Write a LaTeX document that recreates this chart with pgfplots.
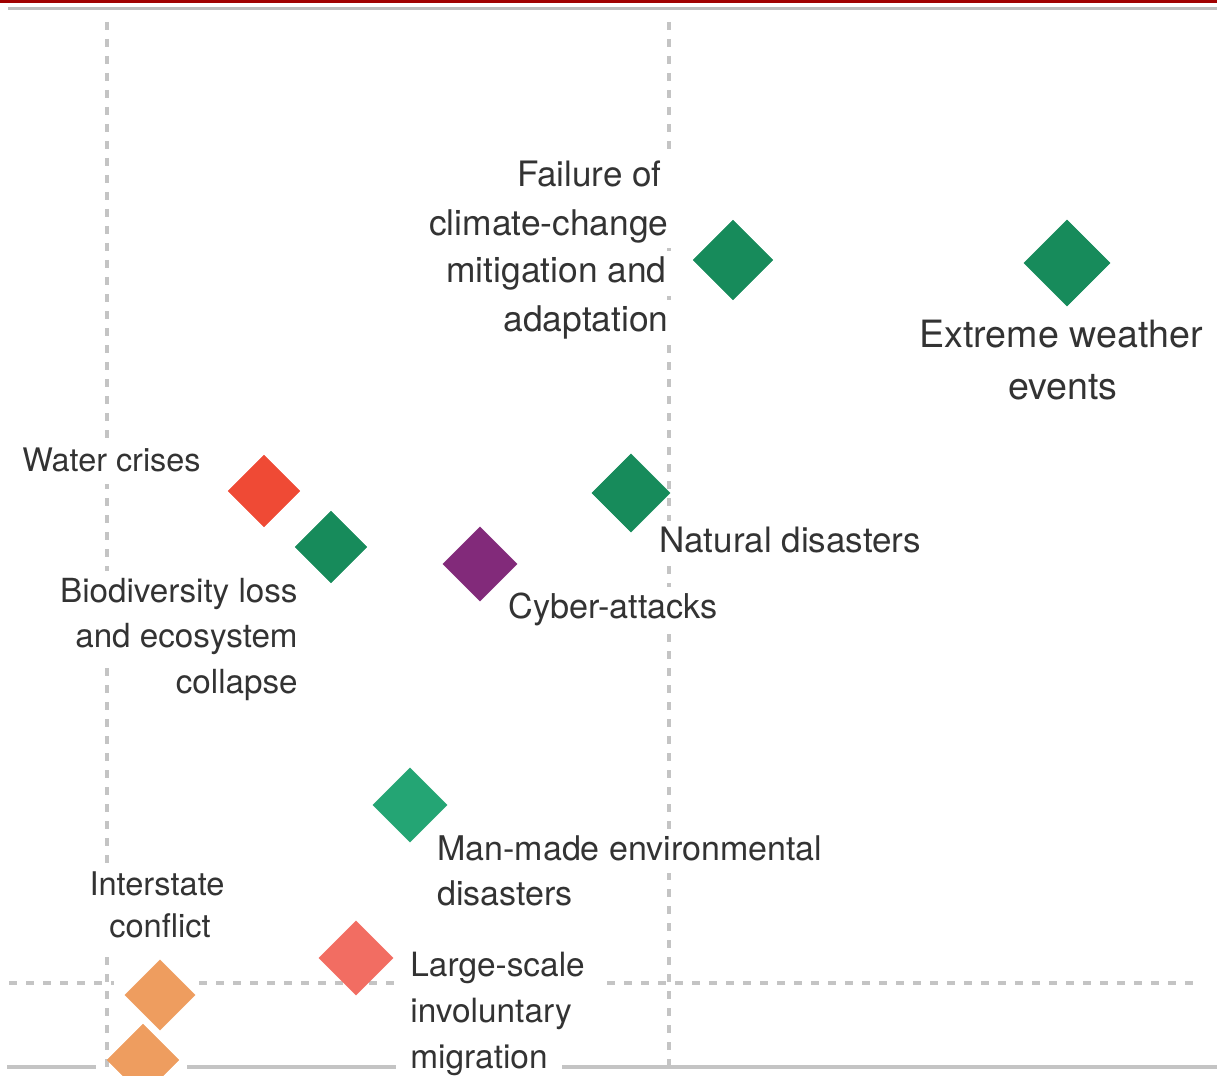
\documentclass[border=0pt]{standalone}
\usepackage{fontspec}
\setmainfont{TeX Gyre Heros}
\usepackage{pgfplots}
\pgfplotsset{compat=1.18}
\definecolor{dkgreen}{HTML}{178B5B}
\definecolor{ltgreen}{HTML}{24A574}
\definecolor{watred}{HTML}{EF4A35}
\definecolor{cyberpurple}{HTML}{822A7A}
\definecolor{salmon}{HTML}{F26D62}
\definecolor{orng}{HTML}{EE9D5F}
\definecolor{topred}{HTML}{A00000}
\definecolor{topgray}{HTML}{BEBEBE}
\definecolor{gridgray}{HTML}{C4C4C4}
\definecolor{txt}{HTML}{333333}
\tikzset{
  lbl/.style={fill=white, text=txt, inner xsep=7pt, inner ysep=3pt, text height=12.5pt, text depth=3.5pt},
  fs/.style={font=\fontsize{#1}{#1}\selectfont}
}
\pgfplotsset{dia/.style={only marks, mark=square*, color=#1, mark options={rotate=45, fill=#1, draw=#1, line width=0.2pt}}}
\begin{document}
\begin{tikzpicture}
\begin{axis}[width=608.5pt,height=537.5pt,scale only axis,
  xmin=0,xmax=1217,ymin=0,ymax=1075,y dir=reverse,hide axis,
  clip mode=individual, clip marker paths=true]
\path (axis cs:0,0) -- (axis cs:1217,1075);
% top rules
\addplot[no marks, draw=topred, line width=1.6pt] coordinates {(0,1.5) (1217,1.5)};
\addplot[no marks, draw=topgray, line width=1.6pt] coordinates {(8,8.5) (1217,8.5)};
% dashed grid lines
\addplot[no marks, draw=gridgray, line width=2.1pt, dash pattern=on 4pt off 4.5pt] coordinates {(107,22) (107,1075)};
\addplot[no marks, draw=gridgray, line width=2.1pt, dash pattern=on 4pt off 4.5pt] coordinates {(669,22) (669,1075)};
\addplot[no marks, draw=gridgray, line width=2.1pt, dash pattern=on 4pt off 4.5pt] coordinates {(9,983) (114,983)};
\addplot[no marks, draw=gridgray, line width=2.1pt, dash pattern=on 4pt off 4.5pt] coordinates {(199,983) (1198,983)};
% bottom solid line
\addplot[no marks, draw=gridgray, line width=1.8pt] coordinates {(7,1067) (96,1067)};
\addplot[no marks, draw=gridgray, line width=1.8pt] coordinates {(187,1067) (1217,1067)};

% labels
\node[lbl, fs=17.5pt, anchor=base east] at (axis cs:676,187) {Failure of};
\node[lbl, fs=17.7pt, anchor=base east] at (axis cs:683,235) {climate-change};
\node[lbl, fs=17.7pt, anchor=base east] at (axis cs:681,283) {mitigation and};
\node[lbl, fs=17.7pt, anchor=base east] at (axis cs:683,331) {adaptation};
\node[lbl, fs=18.8pt, anchor=base] at (axis cs:1061,347) {Extreme weather};
\node[lbl, fs=18.8pt, anchor=base] at (axis cs:1063,399) {events};
\node[lbl, fs=16.2pt, anchor=base west] at (axis cs:8,471) {Water crises};
\node[lbl, fs=16.6pt, anchor=base east] at (axis cs:312,602) {Biodiversity loss};
\node[lbl, fs=16.6pt, anchor=base east] at (axis cs:312,647) {and ecosystem};
\node[lbl, fs=16.6pt, anchor=base east] at (axis cs:312,693) {collapse};
\node[lbl, fs=17.5pt, anchor=base west] at (axis cs:645,552) {Natural disasters};
\node[lbl, fs=17.1pt, anchor=base west] at (axis cs:494,618) {Cyber-attacks};
\node[lbl, fs=17pt, anchor=base west] at (axis cs:423,860) {Man-made environmental};
\node[lbl, fs=17pt, anchor=base west] at (axis cs:423,905) {disasters};
\node[lbl, fs=16.3pt, anchor=base] at (axis cs:157,895) {Interstate};
\node[lbl, fs=16.3pt, anchor=base] at (axis cs:160,937) {conflict};
\node[lbl, fs=16.7pt, anchor=base west] at (axis cs:396,976) {Large-scale};
\node[lbl, fs=16.7pt, anchor=base west] at (axis cs:396,1022) {involuntary};
\node[lbl, fs=16.7pt, anchor=base west] at (axis cs:396,1068) {migration};

% diamonds
\addplot[dia=dkgreen, mark size=14.1pt] coordinates {(733,260)};
\addplot[dia=dkgreen, mark size=15.2pt] coordinates {(1067,263)};
\addplot[dia=watred, mark size=12.7pt] coordinates {(264,491)};
\addplot[dia=dkgreen, mark size=12.7pt] coordinates {(331,547)};
\addplot[dia=cyberpurple, mark size=13.1pt] coordinates {(480,564)};
\addplot[dia=dkgreen, mark size=13.8pt] coordinates {(631,493)};
\addplot[dia=ltgreen, mark size=13.1pt] coordinates {(410,805)};
\addplot[dia=salmon, mark size=13.1pt] coordinates {(356,958)};
\addplot[dia=orng, mark size=12.4pt] coordinates {(160,995)};
\addplot[dia=orng, mark size=12.7pt] coordinates {(143,1060)};
\end{axis}
\end{tikzpicture}
\end{document}
